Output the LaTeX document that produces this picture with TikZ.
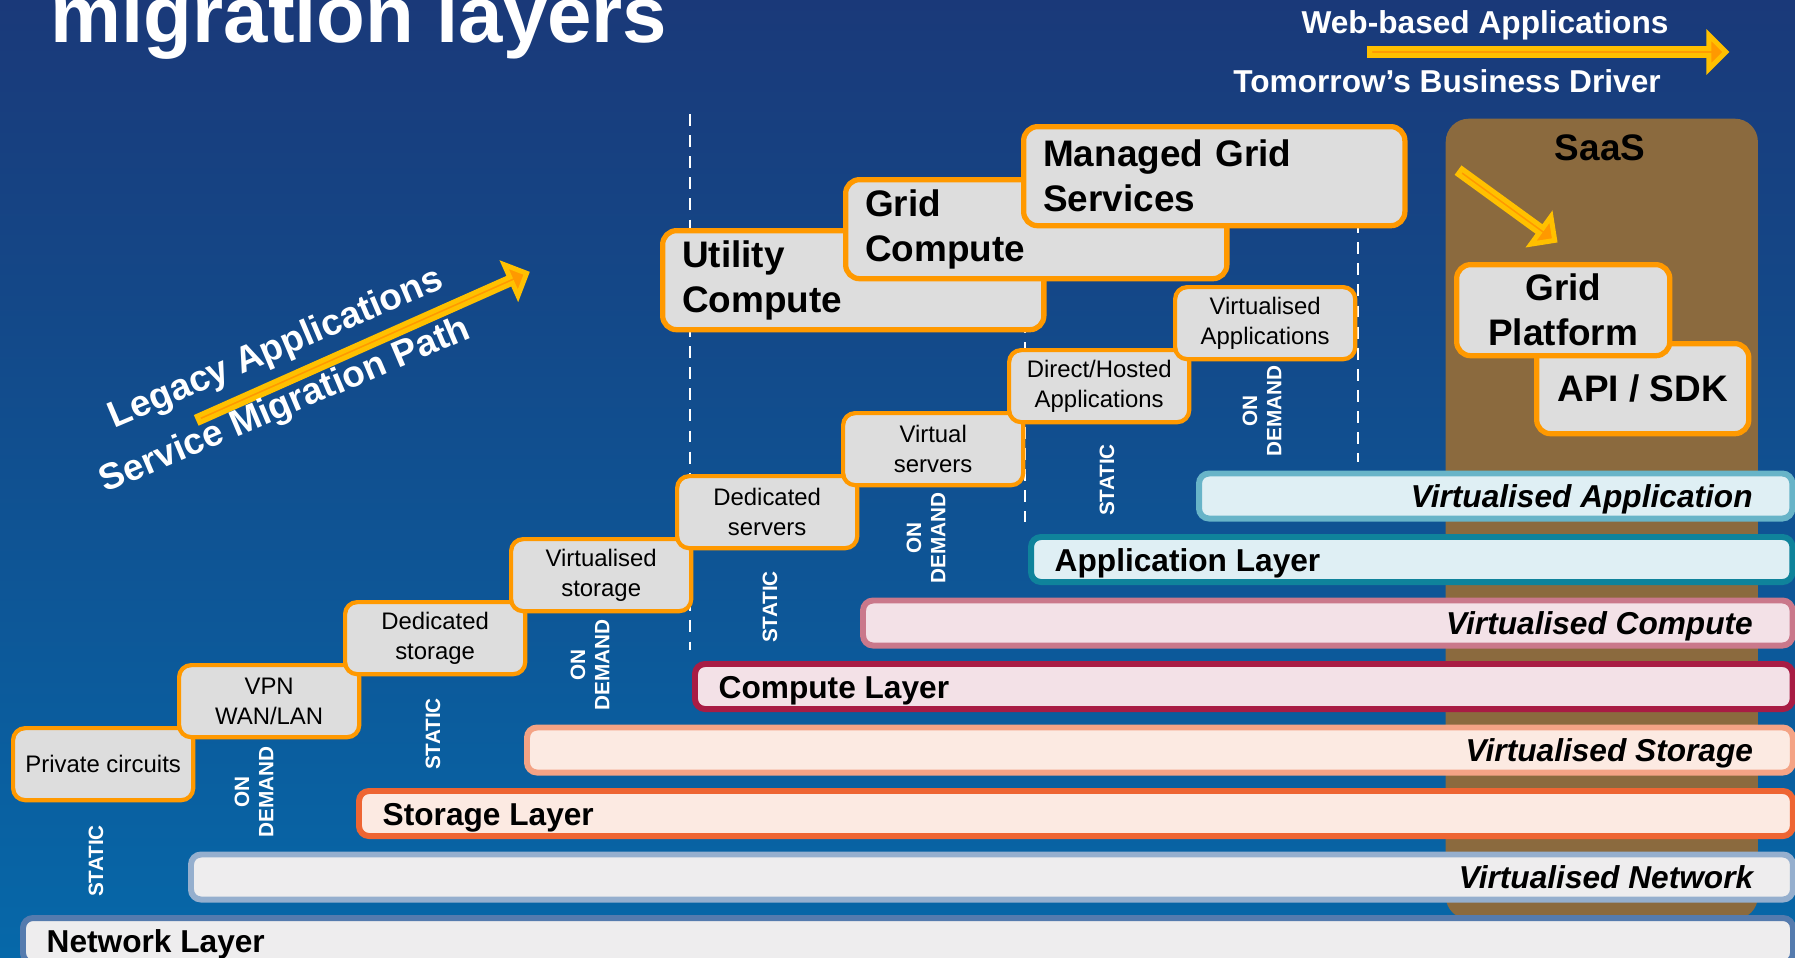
\documentclass[tikz,border=0pt]{standalone}
\usepackage{fontspec}
\setmainfont{Liberation Sans}
\usetikzlibrary{shapes.arrows}

\definecolor{bgTop}{HTML}{1A3979}
\definecolor{bgMid}{HTML}{1C3E82}
\definecolor{bgBottom}{HTML}{0668A9}
\definecolor{stepOrange}{HTML}{FF9900}
\definecolor{stepGrey}{HTML}{DDDDDD}
\definecolor{arrowYellow}{HTML}{FFC000}
\definecolor{saasBrown}{HTML}{8B6A3E}
\definecolor{netEdge}{HTML}{557BAE}
\definecolor{vnetEdge}{HTML}{95AFCE}
\definecolor{netFill}{HTML}{EEEDEE}
\definecolor{stoEdge}{HTML}{EE6533}
\definecolor{vstoEdge}{HTML}{F4A385}
\definecolor{stoFill}{HTML}{FCEAE2}
\definecolor{cmpEdge}{HTML}{A81C44}
\definecolor{vcmpEdge}{HTML}{CA788B}
\definecolor{cmpFill}{HTML}{F3E1E7}
\definecolor{appEdge}{HTML}{0F839B}
\definecolor{vappEdge}{HTML}{68B4C8}
\definecolor{appFill}{HTML}{DFEFF4}

\begin{document}
\begin{tikzpicture}
[x=0.01cm, y=-0.01cm,
 stepDecorate/.style={shape=rectangle, rounded corners=0.12cm, draw=stepOrange, fill=stepGrey, line width=1.2pt, minimum width=1.80cm, minimum height=0.72cm, inner sep=0pt, anchor=north west, align=center, font=\fontsize{6.8}{8.5}\selectfont},
 gridDecorate/.style={shape=rectangle, rounded corners=0.14cm, draw=stepOrange, fill=stepGrey, line width=1.5pt, inner sep=0pt, anchor=north west, font=\fontsize{10.5}{12.8}\selectfont\bfseries},
 layerDecorate/.style={shape=rectangle, rounded corners=0.1cm, line width=1.7pt, minimum height=0.45cm, inner sep=0pt, anchor=north west},
 layerText/.style={inner sep=0pt, font=\fontsize{9}{11}\selectfont\bfseries},
 modeText/.style={rotate=90, inner sep=0pt, align=center, text=white, font=\fontsize{5.9}{6.9}\selectfont\bfseries},
 whiteText/.style={inner sep=0pt, text=white, font=\fontsize{10.5}{12.8}\selectfont\bfseries},
 arrowDecorate/.style={shape=single arrow, draw=arrowYellow, fill=stepOrange, line width=1.4pt, inner sep=0pt, single arrow head extend=0.10cm, minimum width=0.34cm},
 cutLine/.style={draw=white, line width=0.7pt, dash pattern=on 3.4pt off 2.6pt}]

 \useasboundingbox (0,0) rectangle (1795,957);
 \clip (0,0) rectangle (1795,957);
 \shade[top color=bgTop, middle color=bgMid, bottom color=bgBottom] (0,0) rectangle (1795,957);

 % SaaS column
 \node (saas) at (1445,118) [shape=rectangle, rounded corners=0.23cm, fill=saasBrown, minimum width=3.12cm, minimum height=8.0cm, anchor=north west, inner sep=0pt] {};
 \node (saasTitle) at (1600,148) [layerText, font=\fontsize{10.5}{12.8}\selectfont\bfseries] {SaaS};

 \foreach \nodename/\x/\ya/\yb in {1/690/114/650, 2/1025/300/522, 3/1358/200/462}
 {
   \coordinate (cutTop\nodename) at (\x,\ya);
   \coordinate (cutBot\nodename) at (\x,\yb);
   \draw[cutLine] (cutTop\nodename) -- (cutBot\nodename);
 }

 % layers
 \foreach \nodename/\edge/\fillc in {
0/netEdge/netFill,
1/vnetEdge/netFill,
2/stoEdge/stoFill,
3/vstoEdge/stoFill,
4/cmpEdge/cmpFill,
5/vcmpEdge/cmpFill,
6/appEdge/appFill,
7/vappEdge/appFill}
 {
   \pgfmathsetmacro\barw{(1769-168*\nodename)/100}
   \node (L\nodename) at (20+168*\nodename, 915-63.5*\nodename) [layerDecorate, draw=\edge, fill=\fillc, minimum width=\barw cm] {};
 }

 \foreach \nodename/\txt in {0/Network Layer, 2/Storage Layer, 4/Compute Layer, 6/Application Layer}
   \node (T\nodename) at ([xshift=0.26cm, yshift=-0.115cm]L\nodename.west) [layerText, anchor=base west] {\txt};
 \foreach \nodename/\txt in {1/Virtualised Network, 3/Virtualised Storage, 5/Virtualised Compute, 7/Virtualised Application}
   \node (T\nodename) at ([xshift=-0.42cm, yshift=-0.115cm]L\nodename.east) [layerText, anchor=base east, font=\fontsize{9}{11}\selectfont\bfseries\itshape] {\txt};

 % steps
 \foreach \nodename/\txt in {
0/Private circuits,
1/{VPN\\WAN/LAN},
2/{Dedicated\\storage},
3/{Virtualised\\storage},
4/{Dedicated\\servers},
5/{Virtual\\servers},
6/{Direct/Hosted\\Applications},
7/{Virtualised\\Applications}}
 {
   \node (S\nodename) at (11+166*\nodename, 726-63*\nodename) [stepDecorate] {\txt};
 }

 \foreach \nodename/\x/\y/\txt in {
utility/660/228/{Utility\\Compute},
gridCompute/843/177/{Grid\\Compute},
managedGrid/1021/124/{Managed Grid\\Services}}
 {
   \node (\nodename) at (\x,\y) [gridDecorate, text width=3.42cm, inner xsep=0.195cm, minimum height=0.99cm, align=left] {\txt};
 }

 \node (api) at (1534,341) [gridDecorate, minimum width=2.12cm, minimum height=0.90cm] {API / SDK};
 \node (gridPlatform) at (1454,262) [gridDecorate, align=center, minimum width=2.13cm, minimum height=0.91cm] {Grid\\Platform};

 % arrows
 \node (saasArrow) at (1506,205) [arrowDecorate, minimum height=1.17cm, rotate=-36] {};
 \node (migArrow) at (361,347) [arrowDecorate, minimum height=3.59cm, rotate=24] {};
 \node (webArrow) at (1546,52) [arrowDecorate, minimum height=3.56cm] {};

 \node (legacy) at (280,358) [whiteText, rotate=23, anchor=base] {Legacy Applications};
 \node (service) at (289,415) [whiteText, rotate=23, anchor=base] {Service Migration Path};

 \foreach \nodename in {0,1,2,3}
 {
   \node (static\nodename) at (96+337*\nodename, 861-127*\nodename) [modeText] {STATIC};
   \node (demand\nodename) at (254+336*\nodename, 792-127*\nodename) [modeText] {ON\\DEMAND};
 }

 \node (title) at (50,42) [whiteText, anchor=base west, font=\fontsize{22.7}{26}\selectfont\bfseries] {migration layers};
 \node (webApps) at (1485,33) [whiteText, anchor=base, font=\fontsize{9}{11}\selectfont\bfseries] {Web-based Applications};
 \node (driver) at (1447,92) [whiteText, anchor=base, font=\fontsize{9}{11}\selectfont\bfseries] {Tomorrow's Business Driver};
\end{tikzpicture}
\end{document}
